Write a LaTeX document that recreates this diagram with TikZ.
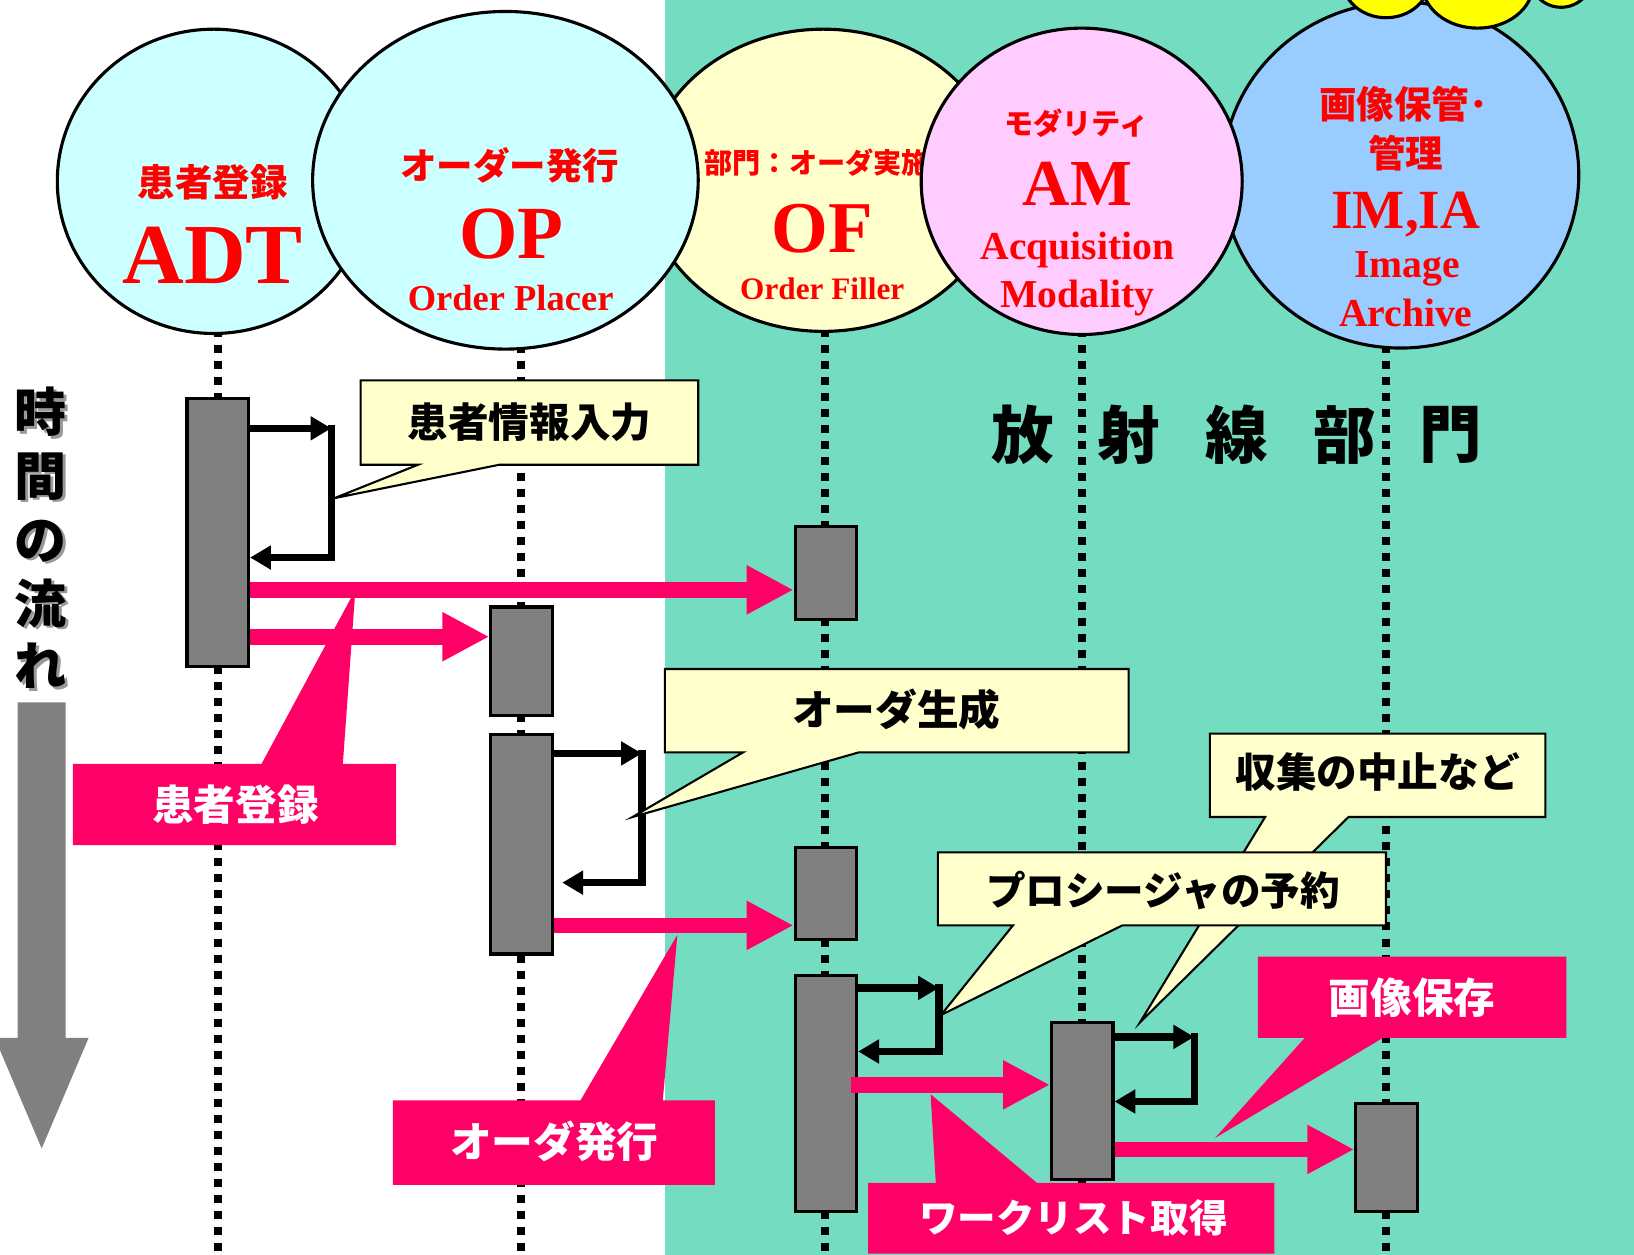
\documentclass[tikz,border=0pt]{standalone}
\usepackage{fontspec}
\setmainfont{Liberation Serif}
\newfontfamily\jp{Noto Sans CJK JP}
\usetikzlibrary{arrows.meta,shapes.geometric}
\definecolor{tealbg}{RGB}{116,221,193}
\definecolor{cyanl}{HTML}{CCFFFF}
\definecolor{yellowl}{HTML}{FFFFCC}
\definecolor{pinkl}{HTML}{FFCCFF}
\definecolor{bluel}{HTML}{99CCFF}
\definecolor{cloudy}{HTML}{FFFF00}
\definecolor{hotpink}{HTML}{FF0066}
\definecolor{boxgray}{HTML}{808080}
\definecolor{callyellow}{HTML}{FFFFCC}
\definecolor{redtxt}{HTML}{FF0000}
\begin{document}
\begin{tikzpicture}[x=1pt,y=-1pt,
  ell/.style={ellipse, draw=black, line width=3pt, inner sep=0pt},
  life/.style={line width=7.7pt, dash pattern=on 7.7pt off 7.7pt},
  actbox/.style={rectangle, draw=black, line width=3pt, fill=boxgray, minimum width=59pt, inner sep=0pt},
  selfarr/.style={line width=7pt, line join=miter},
  stip/.style={-{Triangle[length=20pt,width=22pt]}},
  pinkarr/.style={draw=hotpink, line width=15pt, -{Triangle[length=45pt,width=44pt]}},
  ycall/.style={fill=callyellow, draw=black, line width=2pt, line join=miter},
  pcall/.style={fill=hotpink},
  jpb/.style={font={\jp\bfseries\fontsize{#1}{#1}\selectfont}, inner sep=0pt},
  lat/.style={font={\bfseries\fontsize{#1}{#1}\selectfont}, inner sep=0pt, anchor=base, text=redtxt},
]
\useasboundingbox (0,0) rectangle (1568,1204);
\clip (0,0) rectangle (1568,1204);
% background
\fill[white] (0,0) rectangle (638,1204);
\fill[tealbg] (638,0) rectangle (1568,1204);

% lifelines
\draw[life] (209,300) -- (209,1204);
\draw[life] (500,300) -- (500,1204);
\draw[life] (792,300) -- (792,1204);
\draw[life] (1038,300) -- (1038,1204);
\draw[life] (1330,300) -- (1330,1204);

% actors
\node[ell, fill=cyanl, minimum width=300pt, minimum height=292pt] (adt) at (205,174) {};
\node[jpb=36, text=redtxt] (adtjp) at (204,175) {患者登録};
\node[lat=82] (adtname) at (204,272) {ADT};

\node[ell, fill=yellowl, minimum width=340pt, minimum height=290pt] (of) at (790,173) {};
\node[jpb=27, text=redtxt, anchor=west] (ofjp) at (676,156) {部門：オーダ実施};
\node[lat=70] (ofname) at (789,242) {OF};
\node[lat=30] (offull) at (789,287) {Order Filler};

\node[ell, fill=bluel, minimum width=342pt, minimum height=332pt] (im) at (1344,168) {};
\node[jpb=36, text=redtxt] (imjp1) at (1347,100) {画像保管･};
\node[jpb=36, text=redtxt] (imjp2) at (1349,147) {管理};
\node[lat=53] (imname) at (1349,219) {IM,IA};
\node[lat=38] (imfull1) at (1350,266) {Image};
\node[lat=38] (imfull2) at (1349,313) {Archive};

\node[ell, fill=cyanl, minimum width=370pt, minimum height=324pt] (op) at (485,173) {};
\node[jpb=35, text=redtxt] (opjp) at (489,159) {オーダー発行};
\node[lat=72] (opname) at (491,248) {OP};
\node[lat=35] (opfull) at (490,298) {Order Placer};

\node[ell, fill=pinkl, minimum width=308pt, minimum height=294pt] (am) at (1038,174) {};
\node[jpb=28, text=redtxt] (amjp) at (1033,118) {モダリティ};
\node[lat=63] (amname) at (1034,197) {AM};
\node[lat=38] (amfull1) at (1034,249) {Acquisition};
\node[lat=38] (amfull2) at (1034,295) {Modality};

% cloud
\draw[fill=cloudy, line width=3pt] (1330,-20) ellipse [x radius=42, y radius=37];
\draw[fill=cloudy, line width=3pt] (1498,-25) ellipse [x radius=31, y radius=32];
\draw[fill=cloudy, line width=3pt] (1418,-15) ellipse [x radius=53, y radius=42];

% time arrow and labels
\fill[boxgray] (17,674) -- (63,674) -- (63,996) -- (85,996) -- (40,1102) -- (-5,996) -- (17,996) -- cycle;
\foreach \c/\yy [count=\i] in {時/395,間/457,の/519,流/579,れ/639} {
  \node[jpb=50, text=black!40] (ts\i) at (41.5,\yy+2.5) {\c};
  \node[jpb=50, text=black] (t\i) at (39,\yy) {\c};
}
\foreach \c/\xx [count=\i] in {放/981,射/1083,線/1187,部/1290,門/1392}
  \node[jpb=60, text=black] (rad\i) at (\xx,417) {\c};

% activation boxes
\node[actbox, minimum height=257pt] (adt1) at (209,511) {};
\node[actbox, minimum height=104pt] (op1) at (500.5,634.5) {};
\node[actbox, minimum height=211pt] (op2) at (500.5,810) {};
\node[actbox, minimum height=89pt] (of1) at (792.5,550) {};
\node[actbox, minimum height=88pt] (of2) at (792.5,857.5) {};
\node[actbox, minimum height=226pt] (of3) at (792.5,1049.5) {};
\node[actbox, minimum height=150pt] (am1) at (1038.5,1056.5) {};
\node[actbox, minimum height=104pt] (im1) at (1330.5,1110.5) {};

% self messages
\coordinate (s1t) at (318,411); \coordinate (s1b) at (318,535);
\draw[selfarr, stip] (adt1.east |- s1t) -- (s1t);
\draw[selfarr, stip] ([yshift=3.5pt]s1t) -- (s1b) -- (adt1.east |- s1b);
\coordinate (s2t) at (616,723); \coordinate (s2b) at (616,847);
\coordinate (s2e) at ([xshift=8pt]op2.east);
\draw[selfarr, stip] (op2.east |- s2t) -- (s2t);
\draw[selfarr, stip] ([yshift=3.5pt]s2t) -- (s2b) -- (s2e |- s2b);
\coordinate (s3t) at (901,948); \coordinate (s3b) at (901,1009);
\draw[selfarr, stip] (of3.east |- s3t) -- (s3t);
\draw[selfarr, stip] ([yshift=3.5pt]s3t) -- (s3b) -- (of3.east |- s3b);
\coordinate (s4t) at (1146,995); \coordinate (s4b) at (1146,1057);
\draw[selfarr, stip] (am1.east |- s4t) -- (s4t);
\draw[selfarr, stip] ([yshift=3.5pt]s4t) -- (s4b) -- (am1.east |- s4b);

% messages
\draw[pinkarr] (adt1.east |- 0,566) -- (of1.west |- 0,566);
\draw[pinkarr] (adt1.east |- 0,611) -- (op1.west |- 0,611);
\draw[pinkarr] (op2.east |- 0,888) -- (of2.west |- 0,888);
\coordinate (a4s) at ([xshift=-7pt]of3.east);
\draw[pinkarr] (a4s |- 0,1041) -- (am1.west |- 0,1041);
\draw[pinkarr] (am1.east |- 0,1103) -- (im1.west |- 0,1103);

% pink callouts
\fill[pcall] (70,733) -- (251,733) -- (341,566) -- (329,733) -- (380,733) -- (380,811) -- (70,811) -- cycle;
\node[jpb=40, text=white] (p1t) at (226,772) {患者登録};
\fill[pcall] (377,1056) -- (557,1056) -- (650,897) -- (636,1056) -- (686,1056) -- (686,1137) -- (377,1137) -- cycle;
\node[jpb=40, text=white] (p2t) at (532,1095) {オーダ発行};
\fill[pcall] (833,1135) -- (898,1135) -- (893,1050) -- (995,1135) -- (1223,1135) -- (1223,1203) -- (833,1203) -- cycle;
\node[jpb=37, text=white] (p3t) at (1030,1169) {ワークリスト取得};
\fill[pcall] (1207,918) -- (1503,918) -- (1503,996) -- (1327,996) -- (1166,1092) -- (1252,996) -- (1207,996) -- cycle;
\node[jpb=40, text=white] (p4t) at (1355,957) {画像保存};

% yellow callouts
\draw[ycall] (346,365) -- (670,365) -- (670,446) -- (479,446) -- (321,478) -- (401,446) -- (346,446) -- cycle;
\node[jpb=39, text=black] (c1t) at (508,405) {患者情報入力};
\draw[ycall] (638,642) -- (1083,642) -- (1083,722) -- (824,722) -- (607,784) -- (713,722) -- (638,722) -- cycle;
\node[jpb=40, text=black] (c2t) at (860,681) {オーダ生成};
\draw[ycall] (1161,704) -- (1483,704) -- (1483,784) -- (1294,784) -- (1094,981) -- (1214,784) -- (1161,784) -- cycle;
\node[jpb=39, text=black] (c3t) at (1322,741) {収集の中止など};
\draw[ycall] (900,818) -- (1330,818) -- (1330,888) -- (1077,888) -- (903,974) -- (972,888) -- (900,888) -- cycle;
\node[jpb=38, text=black] (c4t) at (1116,855) {プロシージャの予約};
\end{tikzpicture}
\end{document}
